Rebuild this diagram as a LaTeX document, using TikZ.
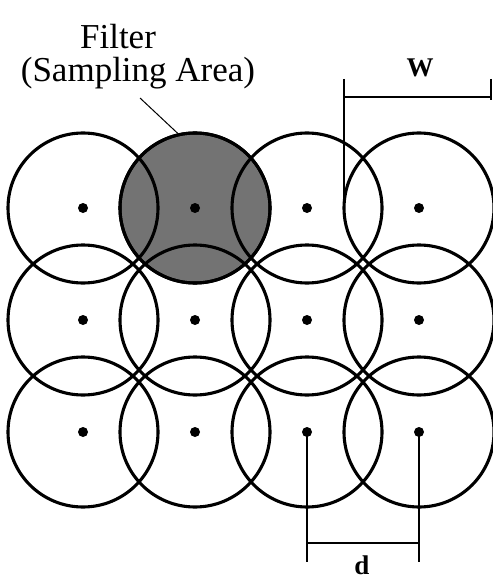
\documentclass[tikz,border=0pt]{standalone}
\usepackage{fontspec}
\setmainfont{Liberation Serif}
\begin{document}
\begin{tikzpicture}[x=1pt,y=-1pt,
  ring/.style={circle, draw, line width=3.1pt, minimum size=150pt, inner sep=0pt},
  shaded/.style={ring, fill=black!55},
  dotmark/.style={circle, fill, minimum size=10pt, inner sep=0pt},
  dimline/.style={line width=1.4pt},
  leader/.style={line width=1pt},
  lbl/.style={font=\fontsize{35}{38}\selectfont, inner sep=0pt},
  dimlbl/.style={font=\fontsize{27}{30}\selectfont\bfseries, inner sep=0pt}
]
\useasboundingbox (0,0) rectangle (492,580);
% shaded filter circle first, outlines of the others drawn on top
\node[shaded] (c12) at (195,208) {};
\foreach \r/\y in {1/208,2/320,3/432}{
  \foreach \c/\x in {1/83,2/195,3/307,4/419}{
    \node[ring] (c\r\c) at (\x,\y) {};
  }
}
\foreach \r/\y in {1/208,2/320,3/432}{
  \foreach \c/\x in {1/83,2/195,3/307,4/419}{
    \node[dotmark] (p\r\c) at (\x,\y) {};
  }
}
% labels
\node[lbl] (filter) at (118,37) {Filter};
\node[lbl] (area) at (138,73) {(Sampling Area)};
\coordinate (leadstart) at (140,98);
\draw[leader] (leadstart) -- (c12.103);
% W dimension
\node[dimlbl] (wlbl) at (420,68) {W};
\coordinate (wl1) at (344,79);
\coordinate (wl2) at (344,208);
\coordinate (wr1) at (491,79);
\coordinate (wr2) at (491,100);
\coordinate (wh1) at (344,97);
\coordinate (wh2) at (492,97);
\draw[dimline] (wl1) -- (wl2);
\draw[dimline] (wr1) -- (wr2);
\draw[dimline] (wh1) -- (wh2);
% d dimension
\coordinate (dl) at (307,562);
\coordinate (dr) at (419,562);
\coordinate (dh1) at (307,543);
\coordinate (dh2) at (419,543);
\draw[dimline] (p33.center) -- (dl);
\draw[dimline] (p34.center) -- (dr);
\draw[dimline] (dh1) -- (dh2);
\node[dimlbl] (dlbl) at (362,565) {d};
\end{tikzpicture}
\end{document}
